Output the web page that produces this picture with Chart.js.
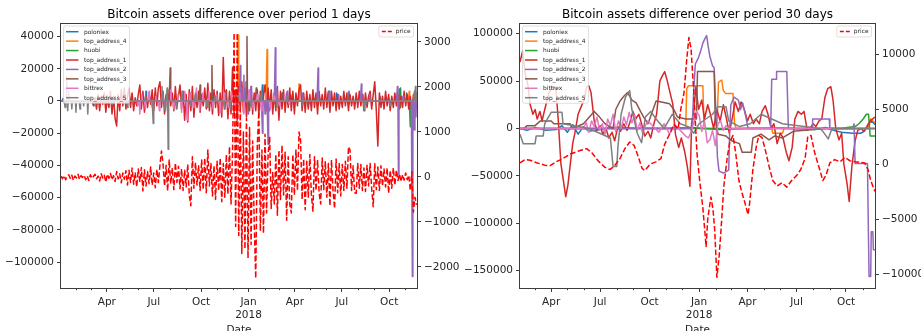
<!DOCTYPE html>
<html>
<head>
<meta charset="utf-8">
<script src="https://cdn.jsdelivr.net/npm/chart.js@4.4.1/dist/chart.umd.min.js"></script>
<style>
  html, body { margin: 0; padding: 0; background: #fff; width: 921px; height: 331px; overflow: hidden; }
  .panel { position: absolute; top: 0; }
</style>
</head>
<body>
<div class="panel" style="left:0"><canvas id="chart1" width="460" height="331"></canvas></div>
<div class="panel" style="left:460px"><canvas id="chart30" width="461" height="331"></canvas></div>
<script>
// ---- series and calendar ------------------------------------------------
// Days are counted from 2017-01-01 (day 0).
const SERIES_NAMES = ['poloniex', 'top_address_4', 'huobi', 'top_address_1',
                      'top_address_2', 'top_address_3', 'bittrex', 'top_address_5'];
const SERIES_COLORS = ['#1f77b4', '#ff7f0e', '#2ca02c', '#d62728',
                       '#9467bd', '#8c564b', '#e377c2', '#7f7f7f'];

const monthStartDays = [31, 59, 90, 120, 151, 181, 212, 243, 273, 304, 334,
                        365, 396, 424, 455, 485, 516, 546, 577, 608, 638, 669];
const majorDays = [90, 181, 273, 365, 455, 546, 638];
const majorLabels = ['Apr', 'Jul', 'Oct', ['Jan', '2018'], 'Apr', 'Jul', 'Oct'];

const ticks1Left = [-100000, -80000, -60000, -40000, -20000, 0, 20000, 40000];
const ticks1Right = [-2000, -1000, 0, 1000, 2000, 3000];
const ticks30Left = [-150000, -100000, -50000, 0, 50000, 100000];
const ticks30Right = [-10000, -5000, 0, 5000, 10000];

// ---- 1-day differences ---------------------------------------------------
// Sparse balance changes: [day, change]; days not listed had no change.
const d1Poloniex = [[5,1500],[166,6000],[205,3000],[340,3000],[392,10000],[450,4000],[520,6000],
  [536,5000],[560,6000],[586,4000],[620,3000],[660,8000],[672,5000],[688,4000]];
const d1Top4 = [[345,41000],[350,6000],[372,-4000],[398,10000],[401,32000],[405,-3000],[463,10500],
  [520,3000],[677,6000],[684,-3000]];
const d1Huobi = [[658,7500],[660,-4000],[679,-16000],[681,-14000],[686,3000]];
const d1Top2 = [[349,22000],[352,8000],[356,16000],[360,12000],[364,-8000],[370,9000],[392,-20000],
  [397,-8000],[403,-27000],[406,-6000],[417,33000],[420,8000],[440,6000],[470,5000],[500,20500],
  [522,6000],[540,4000],[558,5000],[584,10500],[600,4000],[654,9000],[656,-46000],[665,3000],
  [683,-109000],[687,-18000],[690,-10000]];
const d1Top3 = [[213,20500],[240,5000],[271,10000],[294,22000],[320,6000],[362,40000],[366,-6000],
  [380,8000],[430,5000],[480,-3000],[560,3000],[690,4000]];
const d1Bittrex = [[12,15000],[16,6000],[150,-3000],[154,-8000],[158,4000],[165,-5000],[172,6000],
  [178,-4000],[185,3000],[192,-6000],[198,5000],[206,-3000],[214,7000],[220,-5000],[228,4000],
  [235,-7000],[241,6000],[246,-12000],[252,5000],[258,-4000],[264,8000],[270,-6000],[276,5000],
  [282,-3000],[288,6000],[296,-5000],[303,4000],[310,-7000],[318,5000],[326,-4000],[332,6000],
  [338,-6000],[347,5000],[356,-8000],[366,7000],[374,-5000],[382,4000],[390,-6000],[398,5000],
  [407,-4000],[415,3000],[425,-3000],[435,4000],[444,-2000]];
const d1Top5 = [[9,-4000],[14,-6000],[22,-5000],[30,-7000],[38,-5000],[45,-3000],[53,-8000],
  [67,-3000],[100,-2000],[130,-4000],[165,3000],[180,-14000],[197,9000],[203,-6000],[207,8000],
  [209,-30000],[225,-5000],[236,6000],[253,-3000],[262,4000],[285,-4000],[300,3000],[318,-5000],
  [330,-5000],[345,4000],[370,-3000],[390,5000],[420,-4000],[440,3000],[470,-3000],[500,2000],
  [590,-6000],[593,-2000],[640,-3000],[687,6000],[689,9000],[691,5000]];

// top_address_1 and price, sampled every 3 days starting on day 1.
const d1Top1 = [
  0,0,0,0,0,0,0,0,0,0,0,0,0,0,0,0,0,0,0,0,0,
  -3000,2000,-5000,4000,-6000,3000,-2000,5000,-7000,2000,-4000,6000,-8000,3000,-11000,-15500,4000,-6000,7000,-3000,8000,-5000,
  3000,8000,-4000,5000,-6000,2000,-3000,4000,10000,-5000,6000,-7000,3000,-4000,5000,-2000,7000,-6000,8000,-3000,8000,12000,
  -4000,6000,-8000,4000,-5000,7000,-3000,5000,-6000,9000,-4000,3000,10000,-5000,6000,-12000,4000,-13000,7000,-6000,9000,-10000,5000,-4000,6000,-7000,
  4000,-3000,8000,-5000,11000,-6000,5000,-8000,7000,-4000,6000,-9000,5000,-10000,27000,-5000,7000,-11000,6000,-8000,21000,-9000,7000,-12000,9000,-6000,12000,-7000,8000,-10000,
  6000,-5000,9000,-8000,5000,-6000,7000,-9000,6000,-7000,4000,10000,-6000,8000,-5000,7000,-8000,5000,-6000,9000,-12000,6000,-5000,7000,-7000,5000,-4000,8000,-6000,6000,
  -8000,5000,-3000,7000,10000,-6000,5000,-7000,6000,-5000,4000,-6000,7000,-4000,5000,-8000,6000,-3000,4000,-5000,8000,-4000,5000,-7000,6000,-3000,5000,-6000,4000,-5000,
  3000,-4000,6000,-3000,5000,-6000,4000,-3000,3000,-5000,5000,-4000,6000,-3000,4000,-6000,5000,-4000,3000,6000,-5000,4000,12000,-6000,-28000,5000,-4000,3000,-5000,6000,
  -3000,4000,-6000,3000,-4000,5000,-3000,4000,-5000,3000,-4000,6000,-3000,4000,-5000,3000,-6000,4000,-3000,2000
];
const d1Price = [
  20,-40,30,-60,10,50,-30,40,-70,20,-20,60,-50,30,-10,40,-60,20,-80,50,-30,10,60,-40,20,-90,70,-20,40,-110,60,-30,80,-60,30,-100,120,-40,70,-130,90,-50,140,
  -180,150,-120,200,-160,90,-220,180,-100,210,
  -310,
  160,-200,120,-150,220,-180,90,-240,170,-120,250,
  580,300,
  -200,260,-310,380,-150,200,-280,310,-120,240,-260,
  180,-300,150,-220,280,-400,-640,450,-250,320,-180,250,-300,
  380,-280,420,-350,600,-200,300,-420,250,-500,
  350,-300,420,-550,300,-450,500,-380,670,-600,560,
  3200,-1100,3200,-1300,1500,-1700,1000,-1600,1300,-1800,1100,-1500,800,-1000,-2250,700,1450,-1200,600,-1250,950,-800,500,900,-700,100,-600,500,-850,
  600,-500,700,-400,550,-960,450,-600,-800,500,
  -400,600,-300,1000,820,-500,400,-730,350,-450,
  500,-400,-760,450,-300,380,-350,-600,420,-280,350,-450,300,-640,380,
  -300,-700,400,-350,300,-420,280,-300,350,-250,670,600,-300,250,-350,
  -360,300,-250,280,-300,200,-320,260,-200,300,
  -250,-660,300,-280,220,-300,250,-200,
  180,-220,200,-360,150,-250,200,-180,150,
  -80,60,-100,50,-70,90,-60,40,
  -300,120,-780,-450,-620
];

// ---- 30-day differences: [day, change] -----------------------------------
const d30Poloniex = [[32,0],[45,-2000],[60,1000],[80,-2000],[100,-1000],[110,3000],[120,-4000],[130,4000],
  [140,-6000],[150,2000],[160,-3000],[180,-1000],[200,1000],[240,500],[300,0],[350,1000],[400,-1000],
  [450,0],[520,500],[580,-1000],[600,1000],[615,-2000],[630,-4000],[650,-5000],[665,-5000],[672,-3000],
  [680,5000],[686,8000],[692,4000]];
const d30Top4 = [[32,0],[340,0],[342,42000],[345,45000],[372,45000],[374,5000],[378,0],[398,0],
  [401,49000],[407,51000],[410,40000],[414,37000],[428,37000],[431,5000],[434,0],[500,0],[502,-5000],
  [520,-5000],[523,0],[680,0],[684,10000],[692,6000]];
const d30Huobi = [[32,0],[630,0],[640,1000],[655,2000],[662,5000],[670,10000],[676,15000],[680,15000],
  [683,-8000],[692,-8000]];
const d30Top1 = [[32,70000],[37,82000],[41,60000],[47,45000],[51,25000],[56,15000],[60,20000],[64,10000],
  [69,18000],[73,8000],[78,20000],[86,38000],[93,44000],[99,40000],[103,10000],[108,-37000],[114,-60000],
  [117,-72000],[121,-60000],[125,-40000],[130,-16000],[134,-5000],[140,15000],[145,22000],[151,30000],
  [156,44000],[160,45000],[164,38000],[170,8000],[175,-2000],[181,3000],[186,-6000],[192,0],[197,-10000],
  [203,-4000],[208,-13000],[214,2000],[219,-3000],[225,5000],[231,-2000],[236,6000],[242,18000],
  [247,10000],[253,15000],[258,5000],[264,-8000],[270,-3000],[275,-10000],[281,5000],[286,15000],
  [292,50000],[297,56000],[301,60000],[305,52000],[310,40000],[316,26000],[321,-6000],[327,-20000],
  [332,-10000],[338,-24000],[343,-40000],[348,-61000],[351,5000],[355,18000],[359,44000],[364,20000],
  [370,30000],[375,10000],[381,25000],[386,15000],[392,0],[398,20000],[404,8000],[410,25000],[416,10000],
  [421,-5000],[427,12000],[432,28000],[438,18000],[443,28000],[449,20000],[455,8000],[460,15000],
  [466,5000],[471,10000],[477,5000],[482,18000],[488,24000],[493,15000],[499,0],[504,5000],[510,-16000],
  [516,-5000],[521,-10000],[527,-25000],[532,-34000],[538,-20000],[543,10000],[549,18000],[555,15000],
  [560,18000],[566,-2000],[571,0],[577,5000],[582,2000],[588,8000],[593,10000],[599,33000],[604,42000],
  [610,44000],[614,30000],[619,0],[625,-12000],[630,-5000],[634,-37000],[640,-58000],[644,-77000],
  [649,-40000],[655,-13000],[660,-2000],[666,0],[671,-3000],[677,2000],[683,8000],[692,12000]];
const d30Top2 = [[32,0],[352,0],[355,40000],[358,68000],[364,75000],[368,82000],[372,90000],[376,95000],
  [379,98000],[382,86000],[385,76000],[390,66000],[393,64000],[396,20000],[399,-30000],[402,-45000],
  [410,-47000],[420,-44000],[422,0],[424,25000],[430,33000],[438,30000],[442,20000],[446,27000],
  [452,12000],[456,0],[498,0],[500,52000],[508,52000],[509,60000],[528,60000],[531,0],[575,0],
  [576,10000],[607,10000],[608,0],[651,0],[653,5000],[655,-37000],[678,-37000],[680,-120000],
  [681,-156000],[684,-156000],[685,-109000],[688,-109000],[689,-128000],[692,-128000]];
const d30Top3 = [[32,0],[40,0],[45,3000],[60,3000],[70,8000],[90,8000],[95,5000],[125,5000],[130,0],
  [150,5000],[170,18000],[180,12000],[190,5000],[205,0],[210,20000],[218,29000],[225,34000],[232,38000],
  [240,30000],[248,27000],[256,18000],[262,12000],[270,5000],[285,29000],[295,28000],[310,26000],
  [318,20000],[325,12000],[340,10000],[360,10000],[362,60000],[393,60000],[395,10000],[400,-6000],
  [415,-8000],[425,-13000],[440,-16000],[445,-25000],[462,-25000],[465,-10000],[480,-6000],[495,-12000],
  [505,-8000],[520,-10000],[540,-3000],[600,0],[692,0]];
const d30Bittrex = [[32,0],[150,0],[155,6000],[160,-4000],[165,8000],[170,2000],[175,12000],[180,-2000],
  [185,5000],[190,-6000],[195,10000],[200,3000],[205,15000],[210,-3000],[215,8000],[220,0],[225,12000],
  [230,4000],[235,17000],[240,6000],[245,14000],[250,-2000],[255,6000],[260,-5000],[265,3000],[270,8000],
  [280,2000],[290,-4000],[300,5000],[310,-6000],[320,4000],[330,-2000],[340,-8000],[345,-10000],
  [350,-4000],[355,6000],[360,18000],[365,14000],[370,-3000],[375,8000],[380,-15000],[385,-12000],
  [390,-2000],[395,-18000],[400,5000],[405,8000],[410,-2000],[415,3000],[420,0],[692,0]];
const d30Top5 = [[32,-6000],[38,-16000],[60,-16000],[62,-8000],[75,-8000],[78,5000],[90,17000],
  [110,17000],[112,5000],[140,2000],[160,0],[180,-5000],[200,-10000],[205,-40000],[212,-40000],
  [214,-20000],[220,15000],[228,33000],[236,40000],[240,20000],[250,-5000],[258,-15000],[265,12000],
  [275,18000],[285,10000],[300,0],[315,15000],[330,5000],[345,2000],[355,-5000],[365,5000],[390,15000],
  [400,23000],[415,23000],[420,8000],[440,2000],[460,5000],[480,15000],[500,10000],[520,5000],
  [560,2000],[590,0],[595,-3000],[605,-11000],[612,0],[692,0]];
const d30Price = [[32,100],[41,400],[51,350],[64,100],[78,-100],[88,-150],[99,200],[112,500],[125,900],
  [142,1200],[156,1400],[166,1000],[177,300],[190,-300],[199,-500],[207,-200],[218,500],[227,1400],
  [236,2000],[244,1700],[251,800],[259,-400],[264,-600],[274,0],[285,200],[294,500],[301,1800],
  [311,2800],[318,3600],[326,3200],[331,5000],[337,6500],[342,9500],[346,11500],[350,10500],[355,6600],
  [361,1000],[366,-1500],[372,-4000],[378,-7500],[381,-5000],[387,-3000],[391,-4200],[394,-6000],
  [398,-10300],[402,-8500],[405,-6500],[411,-2000],[417,500],[422,2000],[428,2600],[433,1000],
  [439,-1500],[444,-2500],[450,-3500],[456,-4600],[459,-3500],[465,-500],[471,1500],[476,2600],
  [482,2400],[487,1500],[495,-200],[502,-1500],[510,-2000],[519,-1700],[528,-2100],[537,-1500],
  [547,-1000],[554,-500],[562,500],[567,2500],[573,2600],[580,1000],[588,-300],[595,-1500],[601,-1000],
  [608,100],[617,400],[627,200],[636,600],[645,300],[655,200],[664,150],[673,100],[679,-500],
  [684,-1500],[692,-2500]];

// ---- helpers ---------------------------------------------------------------
const FONT = "'DejaVu Sans', sans-serif";
const TEXT = '#262626';
const SPINE = '#3c3c3c';

function dailyPoints(changes, first, last) {
  const byDay = new Map(changes);
  const pts = [];
  for (let d = first; d <= last; d++) pts.push({ x: d, y: byDay.get(d) || 0 });
  return pts;
}
function sampledPoints(values, firstDay, step) {
  return values.map((v, i) => ({ x: firstDay + i * step, y: v }));
}
function pairPoints(pairs) {
  return pairs.map(([d, v]) => ({ x: d, y: v }));
}
function fmt(v) {
  return v < 0 ? '\u2212' + Math.abs(v) : String(v);
}

function roundBox(ctx, x, y, w, h, r) {
  ctx.beginPath();
  ctx.moveTo(x + r, y);
  ctx.lineTo(x + w - r, y); ctx.quadraticCurveTo(x + w, y, x + w, y + r);
  ctx.lineTo(x + w, y + h - r); ctx.quadraticCurveTo(x + w, y + h, x + w - r, y + h);
  ctx.lineTo(x + r, y + h); ctx.quadraticCurveTo(x, y + h, x, y + h - r);
  ctx.lineTo(x, y + r); ctx.quadraticCurveTo(x, y, x + r, y);
  ctx.closePath();
  ctx.fillStyle = 'rgba(255,255,255,0.8)';
  ctx.fill();
  ctx.strokeStyle = 'rgba(204,204,204,0.8)';
  ctx.lineWidth = 0.8;
  ctx.stroke();
}

// Frame, minor ticks, legends, title and x-axis caption.
function decorations(title) {
  return {
    id: 'decor',
    afterDatasetsDraw(chart) {
      const ctx = chart.ctx;
      const a = chart.chartArea;
      const xs = chart.scales.x;
      ctx.save();

      // main legend (upper left)
      const legFont = 5.9;
      ctx.font = legFont + 'px ' + FONT;
      let maxW = 0;
      SERIES_NAMES.forEach(n => { maxW = Math.max(maxW, ctx.measureText(n).width); });
      const lx = a.left + 2.5, ly = a.top + 2, rowH = 9.43;
      roundBox(ctx, lx, ly, 20.5 + maxW + 3, 5.7 + rowH * 7 + 5.6, 2);
      ctx.textBaseline = 'middle';
      ctx.textAlign = 'left';
      SERIES_NAMES.forEach((n, i) => {
        const cy = ly + 5.7 + i * rowH;
        ctx.strokeStyle = SERIES_COLORS[i];
        ctx.lineWidth = 1.5;
        ctx.setLineDash([]);
        ctx.beginPath(); ctx.moveTo(lx + 2.5, cy); ctx.lineTo(lx + 15, cy); ctx.stroke();
        ctx.fillStyle = TEXT;
        ctx.fillText(n, lx + 20.5, cy + 0.3);
      });

      // price legend (upper right)
      const pw = ctx.measureText('price').width;
      const bw = 3 + 11 + 3 + pw + 3;
      const bx = a.right - 3.5 - bw, by = a.top + 2;
      roundBox(ctx, bx, by, bw, 11, 2);
      ctx.strokeStyle = '#ff0000';
      ctx.lineWidth = 1.5;
      ctx.setLineDash([4, 2]);
      ctx.beginPath(); ctx.moveTo(bx + 3, by + 5.5); ctx.lineTo(bx + 14, by + 5.5); ctx.stroke();
      ctx.setLineDash([]);
      ctx.fillStyle = TEXT;
      ctx.fillText('price', bx + 17, by + 5.8);

      // frame
      ctx.strokeStyle = SPINE;
      ctx.lineWidth = 1;
      ctx.strokeRect(a.left - 0.5, a.top - 0.5, a.right - a.left + 1, a.bottom - a.top + 1);

      // minor month ticks
      ctx.beginPath();
      monthStartDays.forEach(d => {
        if (d < xs.min || d > xs.max || majorDays.includes(d)) return;
        const px = Math.round(xs.getPixelForValue(d)) + 0.5;
        ctx.moveTo(px, a.bottom); ctx.lineTo(px, a.bottom + 2.2);
      });
      ctx.stroke();

      // title and x caption
      const cx = (a.left + a.right) / 2;
      ctx.fillStyle = '#000';
      ctx.textAlign = 'center';
      ctx.textBaseline = 'alphabetic';
      ctx.font = '12px ' + FONT;
      ctx.fillText(title, cx, 17.5);
      ctx.fillStyle = TEXT;
      ctx.font = '10.5px ' + FONT;
      ctx.fillText('Date', cx, 333);
      ctx.restore();
    }
  };
}

function buildChart(canvasId, spec) {
  const datasets = spec.series.map((pts, k) => ({
    label: SERIES_NAMES[k],
    data: pts,
    borderColor: SERIES_COLORS[k],
    borderWidth: 1.5,
    pointRadius: 0,
    fill: false,
    tension: 0,
    yAxisID: 'y',
    order: 8 - k,
    borderJoinStyle: 'round'
  }));
  datasets.push({
    label: 'price',
    data: spec.price,
    borderColor: '#ff0000',
    borderWidth: 1.5,
    borderDash: [5.5, 2.4],
    pointRadius: 0,
    fill: false,
    tension: 0,
    yAxisID: 'y2',
    order: 0,
    borderJoinStyle: 'round'
  });

  const tickFont = { family: FONT, size: 10.5 };
  const gridOpts = { display: true, drawOnChartArea: false, drawTicks: true, tickLength: 4, tickColor: SPINE, tickWidth: 1 };

  return new Chart(document.getElementById(canvasId), {
    type: 'line',
    data: { datasets },
    plugins: [decorations(spec.title)],
    options: {
      responsive: false,
      devicePixelRatio: 1,
      animation: false,
      events: [],
      layout: { padding: { top: 24, left: 0, right: 0, bottom: 0 } },
      plugins: { legend: { display: false }, tooltip: { enabled: false }, title: { display: false } },
      scales: {
        x: {
          type: 'linear', position: 'bottom', min: spec.xMin, max: spec.xMax,
          afterBuildTicks: s => { s.ticks = majorDays.filter(d => d >= spec.xMin && d <= spec.xMax).map(v => ({ value: v })); },
          afterFit: s => { s.height = 43; },
          ticks: {
            autoSkip: false, maxRotation: 0, minRotation: 0, padding: 4, color: TEXT, font: tickFont,
            callback: v => { const i = majorDays.indexOf(v); return i >= 0 ? majorLabels[i] : ''; }
          },
          grid: gridOpts,
          border: { display: false }
        },
        y: {
          type: 'linear', position: 'left', min: spec.yMin, max: spec.yMax,
          afterBuildTicks: s => { s.ticks = spec.leftTicks.map(v => ({ value: v })); },
          afterFit: s => { s.width = spec.leftWidth; },
          ticks: { padding: 3, color: TEXT, font: tickFont, callback: v => fmt(v) },
          grid: gridOpts,
          border: { display: false }
        },
        y2: {
          type: 'linear', position: 'right', min: spec.y2Min, max: spec.y2Max,
          afterBuildTicks: s => { s.ticks = spec.rightTicks.map(v => ({ value: v })); },
          afterFit: s => { s.width = spec.rightWidth; },
          ticks: { padding: 3, color: TEXT, font: tickFont, callback: v => fmt(v) },
          grid: gridOpts,
          border: { display: false }
        }
      }
    }
  });
}

// ---- charts ------------------------------------------------------------------
buildChart('chart1', {
  title: 'Bitcoin assets difference over period 1 days',
  series: [
    dailyPoints(d1Poloniex, 1, 692),
    dailyPoints(d1Top4, 1, 692),
    dailyPoints(d1Huobi, 1, 692),
    sampledPoints(d1Top1, 1, 3),
    dailyPoints(d1Top2, 1, 692),
    dailyPoints(d1Top3, 1, 692),
    dailyPoints(d1Bittrex, 1, 692),
    dailyPoints(d1Top5, 1, 692)
  ],
  price: sampledPoints(d1Price, 1, 3),
  xMin: 1, xMax: 692,
  yMin: -116100, yMax: 47800, leftTicks: ticks1Left, leftWidth: 61,
  y2Min: -2467, y2Max: 3400, rightTicks: ticks1Right, rightWidth: 43
});

buildChart('chart30', {
  title: 'Bitcoin assets difference over period 30 days',
  series: [
    pairPoints(d30Poloniex),
    pairPoints(d30Top4),
    pairPoints(d30Huobi),
    pairPoints(d30Top1),
    pairPoints(d30Top2),
    pairPoints(d30Top3),
    pairPoints(d30Bittrex),
    pairPoints(d30Top5)
  ],
  price: pairPoints(d30Price),
  xMin: 32, xMax: 692,
  yMin: -168250, yMax: 110200, leftTicks: ticks30Left, leftWidth: 60,
  y2Min: -11270, y2Max: 12730, rightTicks: ticks30Right, rightWidth: 46
});
</script>
</body>
</html>
